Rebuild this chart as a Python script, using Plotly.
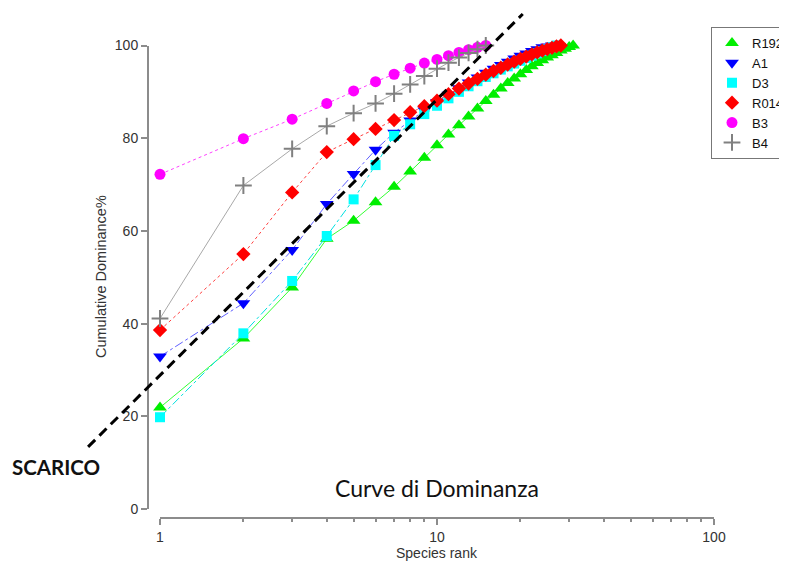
# -*- coding: utf-8 -*-
import math
import plotly.graph_objects as go

# | data section |
R192 = [21.9, 36.8, 47.8, 58.3, 62.2, 66.2, 69.5, 72.8, 75.8, 78.5, 80.8, 82.8, 84.7, 86.4, 88.0, 89.4,
        90.7, 91.9, 92.9, 93.8, 94.7, 95.5, 96.2, 96.8, 97.4, 97.9, 98.4, 98.9, 99.3, 99.7, 100.0]
A1 = [32.9, 44.4, 55.9, 65.8, 72.3, 77.5, 81.2, 83.8, 86.0, 87.8, 89.4, 90.8, 92.0, 93.1, 94.1, 95.0,
      95.8, 96.5, 97.2, 97.8, 98.3, 98.8, 99.2, 99.6, 99.8, 100.0]
D3 = [19.8, 37.9, 49.2, 58.9, 66.8, 74.2, 80.5, 83.0, 85.2, 87.0, 88.6, 90.0, 91.2, 92.3, 93.2, 94.0,
      94.8, 95.5, 96.1, 96.7, 97.3, 97.8, 98.3, 98.8, 99.2, 99.6, 100.0]
R014 = [38.6, 55.0, 68.3, 77.0, 79.8, 82.0, 83.9, 85.6, 86.9, 88.1, 89.5, 90.7, 91.8, 92.8, 93.7, 94.5,
        95.2, 95.9, 96.5, 97.1, 97.6, 98.1, 98.5, 98.9, 99.2, 99.5, 99.8, 100.0]
B3 = [72.2, 79.9, 84.1, 87.5, 90.2, 92.2, 93.8, 95.1, 96.2, 97.0, 97.8, 98.5, 99.1, 99.6, 100.0]
B4 = [41.1, 69.8, 77.7, 82.6, 85.4, 87.5, 89.6, 91.6, 93.4, 95.0, 96.3, 97.4, 98.4, 99.2, 100.0]

# reference line "SCARICO" (data coordinates of its two ends)
SCARICO_X = [0.55, 20.4]
SCARICO_Y = [13.4, 106.8]

X_TICKS = [1, 10, 100]
X_MINOR = [2, 3, 4, 5, 6, 7, 8, 9, 20, 30, 40, 50, 60, 70, 80, 90]
Y_TICKS = [0, 20, 40, 60, 80, 100]

# | layout section |
W, H = 787, 561
OX, OY = 8, 8  # page body margin in the browser


def px(x):
    return (x - OX) / W


def py(y):
    return 1 - (y - OY) / H


X_DOM = [px(160), px(714)]
Y_DOM = [py(509), py(45.5)]
X_RANGE = [0, 2]
Y_RANGE = [0, 100]
AXIS_COLOR = "#8c8c8c"
FONT = "Liberation Sans, Arial, sans-serif"


def to_paper(x, y):
    xp = X_DOM[0] + (math.log10(x) - X_RANGE[0]) / (X_RANGE[1] - X_RANGE[0]) * (X_DOM[1] - X_DOM[0])
    yp = Y_DOM[0] + (y - Y_RANGE[0]) / (Y_RANGE[1] - Y_RANGE[0]) * (Y_DOM[1] - Y_DOM[0])
    return xp, yp


series = [
    ("R192", R192, "#00ee00", "triangle-up", 12, "solid", "#33ff33"),
    ("A1", A1, "#0000ff", "triangle-down", 12, "dashdot", "#6060ff"),
    ("D3", D3, "#00ffff", "square", 10, "dashdot", "#00e0e0"),
    ("R014", R014, "#ff0000", "diamond", 11, "dot", "#ff4040"),
    ("B3", B3, "#ff00ff", "circle", 11, "dot", "#ff40ff"),
    ("B4", B4, "#808080", "cross-thin", 12, "solid", "#a8a8a8"),
]

fig = go.Figure()

for name, values, color, symbol, size, dash, line_color in series:
    ranks = list(range(1, len(values) + 1))
    # --- connecting line (not in legend)
    fig.add_trace(
        go.Scatter(
            x=ranks, y=values, mode="lines", showlegend=False, hoverinfo="skip",
            line={"color": line_color, "width": 1, "dash": dash},
        )
    )
    # --- markers
    marker = {"symbol": symbol, "size": size, "color": color}
    if symbol == "cross-thin":
        marker["line"] = {"color": color, "width": 2}
    fig.add_trace(
        go.Scatter(
            x=ranks, y=values, mode="markers", name=name, marker=marker, cliponaxis=False,
        )
    )

# dashed reference line, drawn over the whole paper
x0, y0 = to_paper(SCARICO_X[0], SCARICO_Y[0])
x1, y1 = to_paper(SCARICO_X[1], SCARICO_Y[1])
fig.add_shape(
    type="line", xref="paper", yref="paper", x0=x0, y0=y0, x1=x1, y1=y1,
    line={"color": "black", "width": 3, "dash": "10px,6px"},
)

common = {"xref": "paper", "yref": "paper", "showarrow": False, "xanchor": "center", "yanchor": "middle"}
fig.add_annotation(
    text="<b>SCARICO</b>", x=px(56), y=py(467),
    font={"family": "Lato", "size": 20.5, "color": "#111"}, **common,
)
fig.add_annotation(
    text="Curve di Dominanza", x=px(437), y=py(488),
    font={"family": "Lato", "size": 23, "color": "#111"}, **common,
)
# axis titles
fig.add_annotation(
    text="Cumulative Dominance%", x=px(101), y=py(277), textangle=-90,
    font={"family": FONT, "size": 14.5, "color": "#333"}, **common,
)
fig.add_annotation(
    text="Species rank", x=px(437), y=py(553),
    font={"family": FONT, "size": 14, "color": "#333"}, **common,
)

fig.update_layout(
    width=W, height=H,
    margin={"l": 0, "r": 0, "t": 0, "b": 0},
    paper_bgcolor="white", plot_bgcolor="white",
    font={"family": FONT, "size": 14, "color": "#333"},
    xaxis={
        "type": "log", "range": X_RANGE, "domain": X_DOM,
        "anchor": "free", "position": py(518),
        "showline": True, "linecolor": AXIS_COLOR, "linewidth": 2,
        "showgrid": False, "zeroline": False,
        "tickmode": "array", "tickvals": X_TICKS, "ticktext": [str(v) for v in X_TICKS],
        "ticks": "outside", "ticklen": 6, "tickwidth": 1.5, "tickcolor": AXIS_COLOR,
        "minor": {"tickvals": X_MINOR, "ticks": "outside", "ticklen": 3,
                  "tickcolor": AXIS_COLOR, "showgrid": False},
        "automargin": False,
    },
    yaxis={
        "range": Y_RANGE, "domain": Y_DOM,
        "anchor": "free", "position": px(148),
        "showline": True, "linecolor": AXIS_COLOR, "linewidth": 2,
        "showgrid": False, "zeroline": False,
        "tickmode": "array", "tickvals": Y_TICKS,
        "ticks": "outside", "ticklen": 6, "tickwidth": 1.5, "tickcolor": AXIS_COLOR,
        "automargin": False,
    },
    legend={
        "x": px(711), "y": py(27), "xanchor": "left", "yanchor": "top",
        "bordercolor": "#777", "borderwidth": 1, "bgcolor": "white",
        "font": {"family": FONT, "size": 13, "color": "#111"},
        "tracegroupgap": 0,
    },
    showlegend=True,
)

fig.write_html("out.html")
